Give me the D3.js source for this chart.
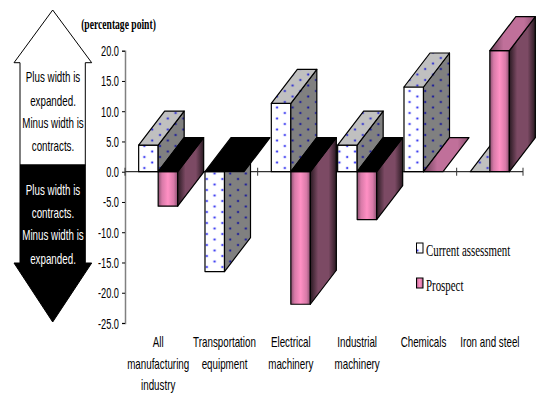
<!DOCTYPE html>
<html>
<head>
<meta charset="utf-8">
<script src="https://cdn.jsdelivr.net/npm/d3@7/dist/d3.min.js"></script>
<style>
  html, body { margin: 0; padding: 0; background: #fff; }
  svg { display: block; }
  text { fill: #000; }
</style>
</head>
<body>
<div id="chart"></div>
<script>
// Values
const categories = ["All manufacturing industry", "Transportation equipment", "Electrical machinery", "Industrial machinery", "Chemicals", "Iron and steel"]
const categoryLines = [["All", "manufacturing", "industry"], ["Transportation", "equipment"], ["Electrical", "machinery"], ["Industrial", "machinery"], ["Chemicals"], ["Iron and steel"]]
const seriesNames = ["Current assessment", "Prospect"]
const currentValues = [4.4, -16.5, 11.3, 4.4, 14.0, 0]
const prospectValues = [-5.7, -0.1, -21.9, -7.9, 0, 20.0]
const yTicks = [20, 15, 10, 5, 0, -5, -10, -15, -20, -25]
const upperNote = ["Plus width is", "expanded.", "Minus width is", "contracts."]
const lowerNote = ["Plus width is", "contracts.", "Minus width is", "expanded."]

const width = 536
const height = 394
const depthX = 26
const depthY = 34

const svg = d3.select("#chart").append("svg").attr("width", width).attr("height", height)
const defs = svg.append("defs")

// Dotted fills for the current assessment bars
function dotPattern(id, background, dot) {
  const p = defs.append("pattern")
    .attr("id", id)
    .attr("patternUnits", "userSpaceOnUse")
    .attr("width", 15.6)
    .attr("height", 11)
  p.append("rect").attr("width", 15.6).attr("height", 11).attr("fill", background)
  ;[[4, 3], [11.8, 8.5]].forEach(([cx, cy]) => {
    p.append("circle").attr("cx", cx).attr("cy", cy).attr("r", 1.7).attr("fill", dot).attr("opacity", 0.2)
    p.append("circle").attr("cx", cx).attr("cy", cy).attr("r", 0.9).attr("fill", dot)
  })
}
dotPattern("dotsFront", "#ffffff", "#2a2af0")
dotPattern("dotsTop", "#c0c0c0", "#2a2ad0")
dotPattern("dotsSide", "#808080", "#14149a")

function gradient(id, stops) {
  const g = defs.append("linearGradient").attr("id", id)
  stops.forEach(([o, c]) => g.append("stop").attr("offset", o).attr("stop-color", c))
}
gradient("pinkFront", [[0, "#8a5070"], [0.2, "#d87aa8"], [0.5, "#ff90c4"], [0.8, "#d87aa8"], [1, "#8a5070"]])
gradient("pinkSide", [[0, "#2a1a22"], [0.3, "#7c4a64"], [0.7, "#7c4a64"], [1, "#2a1a22"]])
gradient("pinkTop", [[0, "#6a3e56"], [0.3, "#c0709a"], [0.75, "#c0709a"], [1, "#8a5070"]])

// Scales
const y = d3.scaleLinear().domain([-25, 20]).range([323, 50.7])
const x0 = d3.scaleBand().domain(categories).range([125, 523])
const x1 = d3.scaleBand().domain(seriesNames).range([0, x0.bandwidth()]).paddingInner(0).paddingOuter(0.7)

// Narrow text helper, the original font is squeezed horizontally
function narrow(parent, str, px, py, opts = {}) {
  const t = parent.append("text")
    .attr("transform", `translate(${px},${py}) scale(${opts.sx || 0.7},1)`)
    .attr("text-anchor", opts.anchor || "middle")
    .style("font-family", opts.family || "'Liberation Sans', Arial, sans-serif")
    .style("font-size", (opts.size || 14) + "px")
    .text(str)
  if (opts.weight) t.style("font-weight", opts.weight)
  if (opts.fill) t.style("fill", opts.fill)
  return t
}

// Left hand arrows
const arrows = svg.append("g")
arrows.append("path")
  .attr("d", "M52.7,10 L91.7,62.7 L85.3,62.7 L85.3,165 L20,165 L20,62.7 L14,62.7 Z")
  .attr("fill", "#fff").attr("stroke", "#000").attr("stroke-width", 1)
arrows.append("path")
  .attr("d", "M20,165 L85.3,165 L85.3,263 L91.7,263 L52.7,322 L14,263 L20,263 Z")
  .attr("fill", "#000").attr("stroke", "#000").attr("stroke-width", 1)
const upperY = [82, 106, 128, 151]
const lowerY = [195, 218, 240, 264]
upperNote.forEach((s, i) => narrow(arrows, s, 53, upperY[i]))
lowerNote.forEach((s, i) => narrow(arrows, s, 53, lowerY[i], { fill: "#fff" }))

// Y axis, with a plain hyphen for the minus sign like the original
const yAxis = svg.append("g")
  .attr("transform", "translate(125,0)")
  .call(d3.axisLeft(y).tickValues(yTicks).tickSize(3).tickPadding(3).tickFormat((d) => d.toFixed(1)))
yAxis.select(".domain").attr("stroke", "#808080").attr("stroke-width", 1.5)
yAxis.selectAll(".tick line").attr("stroke", "#000")
yAxis.selectAll(".tick text")
  .attr("x", null)
  .attr("dy", null)
  .attr("transform", "translate(-6,5) scale(0.66,1)")
  .attr("text-anchor", "end")
  .style("font-family", "'Liberation Sans', Arial, sans-serif")
  .style("font-size", "14px")

// Zero line with category ticks
const zeroAxis = svg.append("g")
zeroAxis.append("line")
  .attr("x1", 125).attr("x2", 523)
  .attr("y1", y(0)).attr("y2", y(0))
  .attr("stroke", "#333").attr("stroke-width", 1.2)
categories.concat([null]).forEach((c) => {
  const tx = c === null ? 523 : x0(c)
  zeroAxis.append("line")
    .attr("x1", tx).attr("x2", tx)
    .attr("y1", y(0) - 4).attr("y2", y(0) + 4)
    .attr("stroke", "#333")
})

// Bars
function poly(g, pts, fill) {
  g.append("polygon")
    .attr("points", pts.map((p) => p.join(",")).join(" "))
    .attr("fill", fill)
    .attr("stroke", "#000")
    .attr("stroke-width", 1.2)
    .attr("stroke-linejoin", "round")
}

const bars = svg.append("g")
categories.forEach((cat, i) => {
  ;[currentValues[i], prospectValues[i]].forEach((v, s) => {
    const g = bars.append("g")
    const xa = x0(cat) + x1(seriesNames[s])
    const xb = xa + x1.bandwidth()
    const y0 = y(0)
    const yv = y(v)
    const yTop = Math.min(y0, yv)
    const yBot = Math.max(y0, yv)
    const fills = s === 0
      ? { front: "url(#dotsFront)", side: "url(#dotsSide)", top: "url(#dotsTop)" }
      : { front: "url(#pinkFront)", side: "url(#pinkSide)", top: "url(#pinkTop)" }
    if (yBot - yTop > 0.7) {
      poly(g, [[xa, yTop], [xb, yTop], [xb, yBot], [xa, yBot]], fills.front)
      poly(g, [[xb, yTop], [xb + depthX, yTop - depthY], [xb + depthX, yBot - depthY], [xb, yBot]], fills.side)
    }
    // The top face of a negative bar is black
    poly(g, [[xa, yTop], [xa + depthX, yTop - depthY], [xb + depthX, yTop - depthY], [xb, yTop]], v < 0 ? "#000" : fills.top)
  })
})

// Category labels
const labels = svg.append("g")
const labelY = [347, 369, 390]
categories.forEach((cat, i) => {
  categoryLines[i].forEach((line, j) => {
    narrow(labels, line, x0(cat) + x0.bandwidth() / 2, labelY[j])
  })
})

// Unit label
narrow(svg, "(percentage point)", 118.5, 29, {
  family: "'Liberation Serif', 'Times New Roman', serif", size: 15, weight: "bold", sx: 0.64
})

// Legend
const legend = svg.append("g")
const legendY = [248, 283]
const legendFill = ["url(#dotsFront)", "url(#pinkFront)"]
seriesNames.forEach((name, i) => {
  legend.append("rect")
    .attr("x", 416.5).attr("y", legendY[i] - 5)
    .attr("width", 6.5).attr("height", 10)
    .attr("fill", legendFill[i]).attr("stroke", "#000")
  narrow(legend, name, 426, legendY[i] + 8, {
    anchor: "start", family: "'Liberation Serif', 'Times New Roman', serif", size: 16, sx: 0.68
  })
})
</script>
</body>
</html>
